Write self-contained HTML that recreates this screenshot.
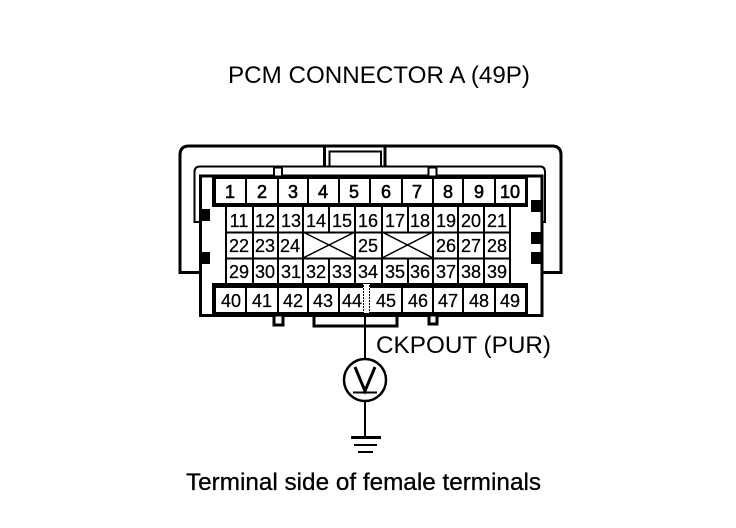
<!DOCTYPE html>
<html><head><meta charset="utf-8"><style>
html,body{margin:0;padding:0;background:#fff}
svg{display:block}
text{font-family:"Liberation Sans",sans-serif;fill:#000}
.n{font-size:18px;text-anchor:middle;stroke:#000;stroke-width:.25}
.t{font-size:18px;text-anchor:middle;stroke:#000;stroke-width:.6}
.l{font-size:24px}
</style></head><body>
<svg width="736" height="528" viewBox="0 0 736 528" xmlns="http://www.w3.org/2000/svg">
<g fill="none" stroke="#000">
<path d="M200 272.500H180V155Q180 146 189 146H552Q561 146 561 155V272.500H542" stroke-width="3"/>
<path d="M200 221V222H194.500V172Q194.500 166.500 200 166.500H540Q545 166.500 545 172V222H542" stroke-width="2"/>
<path d="M324.500 146V166M385 146V166" stroke-width="3"/>
<path d="M329.500 166V151.500H381V166" stroke-width="2"/>
<path d="M200.500 176V315.500H542V176Z" stroke-width="3"/>
<rect x="274" y="167.500" width="8" height="9" stroke-width="2" fill="#fff"/>
<rect x="428.500" y="167.500" width="8" height="9" stroke-width="2" fill="#fff"/>
<path d="M314 315V326H397V315" stroke-width="3"/>
<rect x="274" y="315" width="9" height="10" stroke-width="3" fill="#fff"/>
<rect x="429" y="315" width="8" height="9" stroke-width="3" fill="#fff"/>
</g>
<g fill="#000">
<rect x="200" y="209" width="10" height="12"/>
<rect x="200" y="252" width="10" height="12"/>
<rect x="531" y="200" width="10" height="12"/>
<rect x="531" y="232" width="10" height="12"/>
<rect x="531" y="252" width="10" height="12"/>
</g>
<rect x="212" y="176" width="316" height="31" fill="#000"/>
<rect x="212" y="283" width="316" height="32" fill="#000"/>
<g fill="#fff">
<rect x="216" y="179" width="309" height="24"/>
<rect x="216" y="288" width="309" height="24"/>
</g>
<g fill="none" stroke="#000" stroke-width="2">
<path d="M246 178V204M278 178V204M308 178V204M339 178V204M370 178V204M402 178V204M433 178V204M463 178V204M495 178V204"/>
<path d="M246 287V313M278 287V313M308 287V313M339 287V313M402 287V313M433 287V313M463 287V313M495 287V313"/>
<path d="M226 206V283M253 206V283M278 206V283M303 206V283M355 206V283M382 206V283M433 206V283M458 206V283M484 206V283M510 206V283"/>
<path d="M329 206V232M329 258V283M408 206V232M408 258V283"/>
<path d="M226 232.500H510M226 258.500H510"/>
<path d="M303 232L355 258M303 258L355 232M382 232L433 258M382 258L433 232" stroke-width="1.500"/>
</g>
<rect x="363" y="284" width="7" height="29" fill="#fff"/>
<path d="M363.500 285V313M369.500 285V313" stroke="#000" stroke-width="1" stroke-dasharray="2 1" fill="none"/>
<g>
<text class="t" x="230" y="198">1</text><text class="t" x="262" y="198">2</text><text class="t" x="293" y="198">3</text><text class="t" x="323" y="198">4</text><text class="t" x="354" y="198">5</text><text class="t" x="386" y="198">6</text><text class="t" x="417" y="198">7</text><text class="t" x="448" y="198">8</text><text class="t" x="479" y="198">9</text><text class="t" x="510" y="198">10</text>
</g>
<g>
<text class="n" x="239" y="227">11</text><text class="n" x="265" y="227">12</text><text class="n" x="291" y="227">13</text><text class="n" x="316" y="227">14</text><text class="n" x="342" y="227">15</text><text class="n" x="368" y="227">16</text><text class="n" x="395" y="227">17</text><text class="n" x="420" y="227">18</text><text class="n" x="446" y="227">19</text><text class="n" x="471" y="227">20</text><text class="n" x="497" y="227">21</text>
<text class="n" x="239" y="252">22</text><text class="n" x="265" y="252">23</text><text class="n" x="290" y="252">24</text><text class="n" x="368" y="252">25</text><text class="n" x="446" y="252">26</text><text class="n" x="471" y="252">27</text><text class="n" x="497" y="252">28</text>
<text class="n" x="239" y="278">29</text><text class="n" x="265" y="278">30</text><text class="n" x="291" y="278">31</text><text class="n" x="316" y="278">32</text><text class="n" x="342" y="278">33</text><text class="n" x="368" y="278">34</text><text class="n" x="395" y="278">35</text><text class="n" x="420" y="278">36</text><text class="n" x="446" y="278">37</text><text class="n" x="471" y="278">38</text><text class="n" x="497" y="278">39</text>
<text class="n" x="231" y="307">40</text><text class="n" x="262" y="307">41</text><text class="n" x="293" y="307">42</text><text class="n" x="323" y="307">43</text><text class="n" x="352" y="307">44</text><text class="n" x="386" y="307">45</text><text class="n" x="418" y="307">46</text><text class="n" x="448" y="307">47</text><text class="n" x="479" y="307">48</text><text class="n" x="510" y="307">49</text>
</g>
<g fill="none" stroke="#000">
<path d="M365 313V359M365 401V437" stroke-width="2"/>
<circle cx="365" cy="380" r="21" stroke-width="2.500"/>
<path d="M355 367L365 391L375 367" stroke-width="3"/>
<path d="M353 392.500H377" stroke-width="2"/>
<path d="M351 437.500H381" stroke-width="3"/>
<path d="M354 445H377" stroke-width="2"/>
<path d="M358 452H373" stroke-width="2"/>
</g>
<text class="l" x="228" y="83" textLength="302" lengthAdjust="spacingAndGlyphs">PCM CONNECTOR A (49P)</text>
<text class="l" x="376" y="353" textLength="175" lengthAdjust="spacingAndGlyphs">CKPOUT (PUR)</text>
<text class="l" x="186" y="490" textLength="355" lengthAdjust="spacingAndGlyphs" stroke="#000" stroke-width=".3">Terminal side of female terminals</text>
</svg>
</body></html>
